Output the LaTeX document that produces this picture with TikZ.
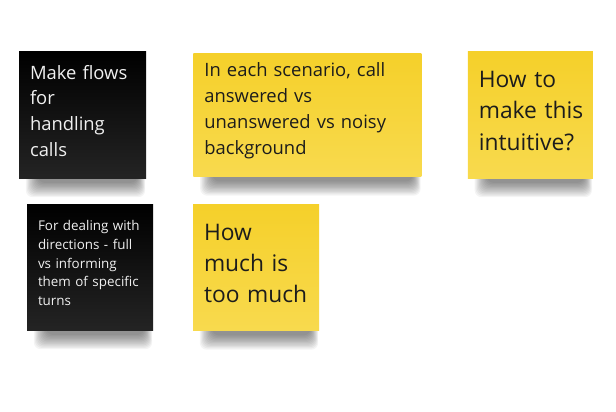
\documentclass[tikz,border=0pt]{standalone}
\usepackage{fontspec}
\setmainfont{Open Sans}
\usepackage{xcolor}
\usetikzlibrary{positioning}
\definecolor{stickyyellow}{HTML}{F5D02A}
\definecolor{stickyyellowlow}{HTML}{F8DA4E}
\definecolor{inkdark}{HTML}{1C1C1C}
\pgfdeclarelayer{background}
\pgfsetlayers{background,main}
\tikzset{
  note/.style={rectangle,inner xsep=11pt,inner ysep=0pt,align=left,
    minimum height=126pt,execute at end node={\par\vspace*{8pt}}},
  blacknote/.style={note,top color=black,bottom color=black!86,text=white!94!black},
  yellownote/.style={note,top color=stickyyellow,bottom color=stickyyellowlow,text=inkdark},
  bigtext/.style={font=\fontsize{18.4}{25.9}\selectfont},
  hugetext/.style={font=\fontsize{22.8}{31.3}\selectfont},
  smalltext/.style={font=\fontsize{13.4}{18.7}\selectfont},
}
% soft shadow under a sticky note
\newcommand{\noteshadow}[1]{%
  \foreach \k in {0,...,11}
    \fill[black,opacity=0.045,rounded corners=7pt]
      ([xshift={(7+1.1*\k)*1pt},yshift=8pt]#1.south west) rectangle
      ([xshift={-(1+0.7*\k)*1pt},yshift={-(19-1.3*\k)*1pt}]#1.south east);
}
\begin{document}
\begin{tikzpicture}[x=1pt,y=-1pt]
    \useasboundingbox (0,0) rectangle (616,412);

    \node[blacknote,bigtext,text width=105pt] (flows) at (82.5,115) {Make~flows\\for\\handling\\calls};
    \node[yellownote,bigtext,text width=206pt,minimum height=123pt,right=47pt of flows] (scenario) {In~each~scenario,~call\\answered~vs\\unanswered~vs~noisy\\background};
    \node[yellownote,hugetext,text width=103pt,right=46pt of scenario] (intuitive) {How~to\\make~this\\intuitive?};

    \node[blacknote,smalltext,text width=104pt] (directions) at (90,267) {For~dealing~with\\directions~-~full\\vs~informing\\them~of~specific\\turns};
    \node[yellownote,hugetext,text width=104pt] (toomuch) at (256,267.5) {How\\much~is\\too~much};

    \begin{pgfonlayer}{background}
      \fill[white] (0,0) rectangle (616,412);
      \noteshadow{flows}
      \noteshadow{scenario}
      \noteshadow{intuitive}
      \noteshadow{directions}
      \noteshadow{toomuch}
    \end{pgfonlayer}
\end{tikzpicture}
\end{document}
